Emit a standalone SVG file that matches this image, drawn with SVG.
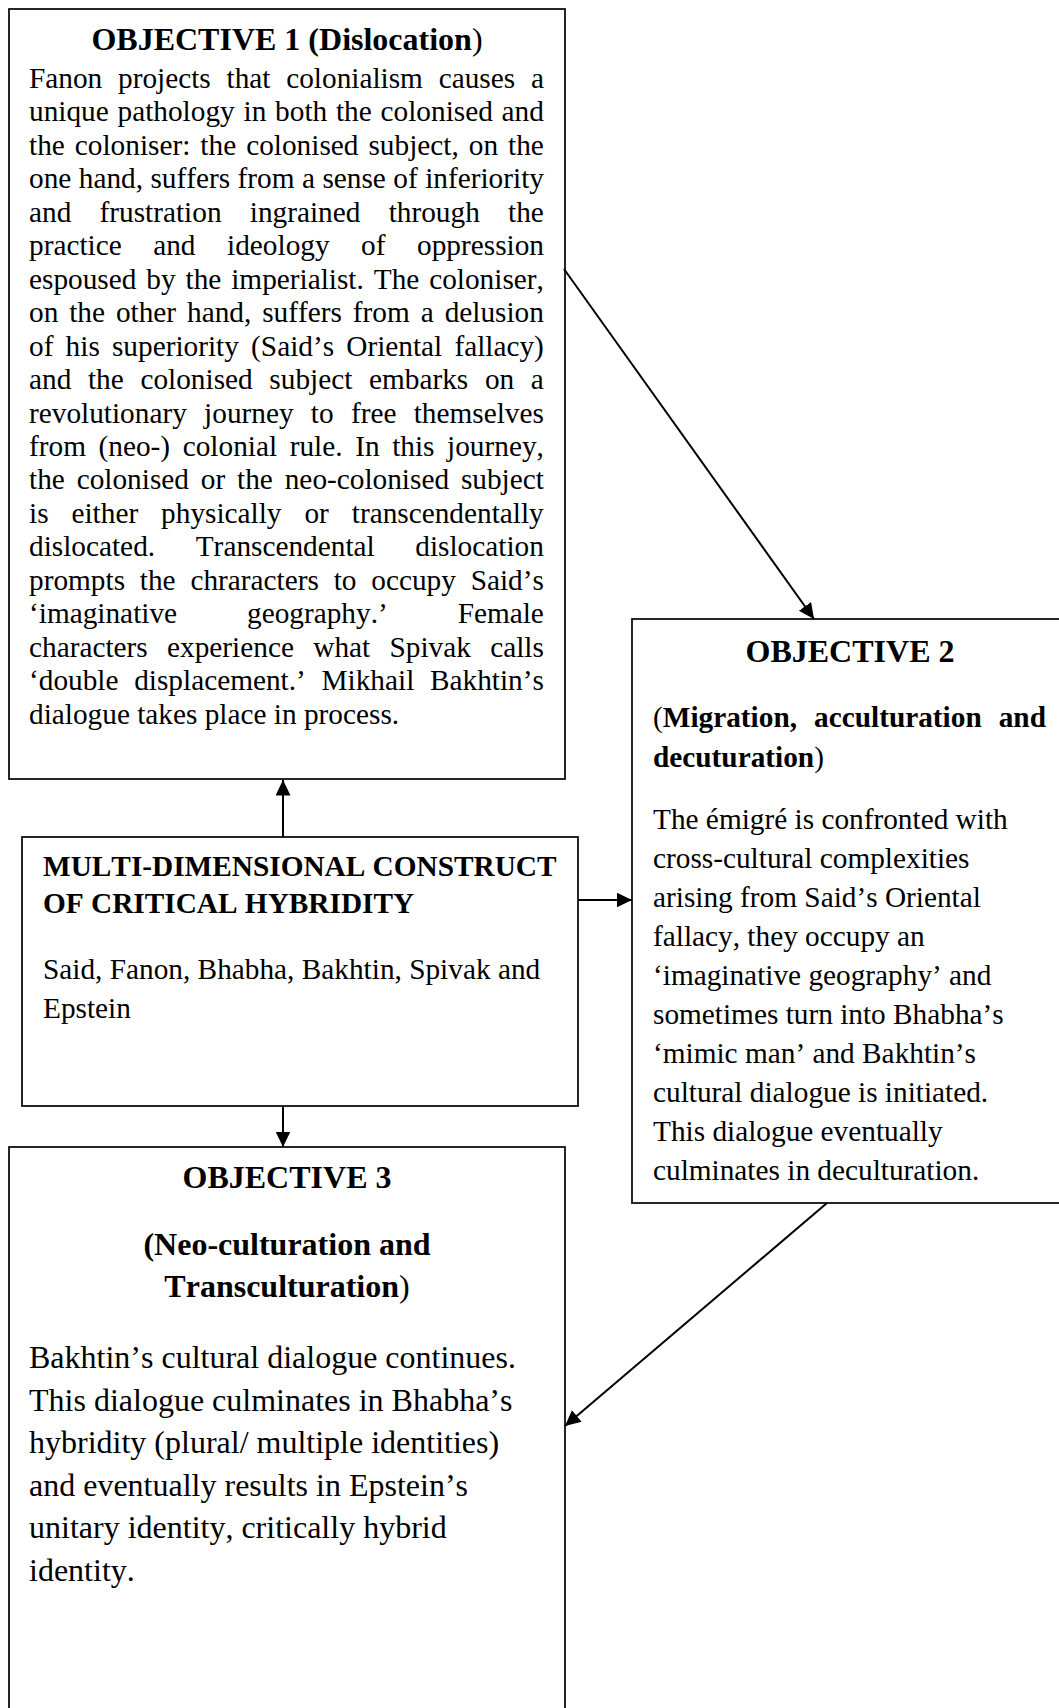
<svg xmlns="http://www.w3.org/2000/svg" width="1059" height="1708" viewBox="0 0 1059 1708">
<style>
text{font-family:"Liberation Serif","Times New Roman",serif;fill:#000;font-kerning:none}
.t{font-size:32px;font-weight:bold;text-anchor:middle}
.b{font-size:29.3px}
.bb{font-size:29.3px;font-weight:bold}
.b3{font-size:32px}
.n{font-weight:normal}
.box{fill:#fff;stroke:#000;stroke-width:1.7}
.c{stroke:#000;stroke-width:2;fill:none;marker-end:url(#ah)}
</style>
<defs>
<marker id="ah" markerUnits="userSpaceOnUse" markerWidth="17" markerHeight="17" refX="15.5" refY="7.5" orient="auto">
<path d="M0,0 L15.5,7.5 L0,15 z" fill="#000"/>
</marker>
</defs>
<rect width="1059" height="1708" fill="#fff"/>

<g id="objective1">
<rect class="box" x="9" y="9" width="556" height="770"/>
<text class="t" x="287" y="50">OBJECTIVE 1 (Dislocation<tspan class="n">)</tspan></text>
<g class="b">
<text x="29" y="88" word-spacing="8.44">Fanon projects that colonialism causes a</text>
<text x="29" y="121.45" word-spacing="1.47">unique pathology in both the colonised and</text>
<text x="29" y="154.9" word-spacing="2.69">the coloniser: the colonised subject, on the</text>
<text x="29" y="188.35" word-spacing="0.11">one hand, suffers from a sense of inferiority</text>
<text x="29" y="221.8" word-spacing="20.9">and frustration ingrained through the</text>
<text x="29" y="255.25" word-spacing="24.2">practice and ideology of oppression</text>
<text x="29" y="288.7" word-spacing="2.58">espoused by the imperialist. The coloniser,</text>
<text x="29" y="322.15" word-spacing="3.59">on the other hand, suffers from a delusion</text>
<text x="29" y="355.6" word-spacing="4.86">of his superiority (Said’s Oriental fallacy)</text>
<text x="29" y="389.05" word-spacing="9.33">and the colonised subject embarks on a</text>
<text x="29" y="422.5" word-spacing="9.95">revolutionary journey to free themselves</text>
<text x="29" y="455.95" word-spacing="5.27">from (neo-) colonial rule. In this journey,</text>
<text x="29" y="489.4" word-spacing="4.54">the colonised or the neo-colonised subject</text>
<text x="29" y="522.85" word-spacing="15.6">is either physically or transcendentally</text>
<text x="29" y="556.3" word-spacing="33.3">dislocated. Transcendental dislocation</text>
<text x="29" y="589.75" word-spacing="7.47">prompts the chraracters to occupy Said’s</text>
<text x="29" y="623.2" word-spacing="62.6">‘imaginative geography.’ Female</text>
<text x="29" y="656.65" word-spacing="12.0">characters experience what Spivak calls</text>
<text x="29" y="690.1" word-spacing="8.36">‘double displacement.’ Mikhail Bakhtin’s</text>
<text x="29" y="723.55">dialogue takes place in process.</text>
</g>
</g>

<g id="construct">
<rect class="box" x="22" y="837" width="556" height="269"/>
<text class="bb" x="43" y="876">MULTI-DIMENSIONAL CONSTRUCT</text>
<text class="bb" x="43" y="913">OF CRITICAL HYBRIDITY</text>
<text class="b" x="43" y="979">Said, Fanon, Bhabha, Bakhtin, Spivak and</text>
<text class="b" x="43" y="1018">Epstein</text>
</g>

<g id="objective2">
<rect class="box" x="632" y="619" width="436" height="584"/>
<text class="t" x="850" y="662">OBJECTIVE 2</text>
<text class="bb" x="653" y="727" word-spacing="9.7"><tspan class="n">(</tspan>Migration, acculturation and</text>
<text class="bb" x="653" y="767">decuturation<tspan class="n">)</tspan></text>
<g class="b">
<text x="653" y="829">The émigré is confronted with</text>
<text x="653" y="868">cross-cultural complexities</text>
<text x="653" y="907">arising from Said’s Oriental</text>
<text x="653" y="946">fallacy, they occupy an</text>
<text x="653" y="985">‘imaginative geography’ and</text>
<text x="653" y="1024">sometimes turn into Bhabha’s</text>
<text x="653" y="1063">‘mimic man’ and Bakhtin’s</text>
<text x="653" y="1102">cultural dialogue is initiated.</text>
<text x="653" y="1141">This dialogue eventually</text>
<text x="653" y="1180">culminates in deculturation.</text>
</g>
</g>

<g id="objective3">
<rect class="box" x="9" y="1147" width="556" height="600"/>
<text class="t" x="287" y="1188">OBJECTIVE 3</text>
<text class="t" x="287" y="1255">(Neo-culturation and</text>
<text class="t" x="287" y="1297">Transculturation<tspan class="n">)</tspan></text>
<g class="b3">
<text x="29" y="1368">Bakhtin’s cultural dialogue continues.</text>
<text x="29" y="1410.6">This dialogue culminates in Bhabha’s</text>
<text x="29" y="1453.2">hybridity (plural/ multiple identities)</text>
<text x="29" y="1495.8">and eventually results in Epstein’s</text>
<text x="29" y="1538.4">unitary identity, critically hybrid</text>
<text x="29" y="1581">identity.</text>
</g>
</g>

<g id="connectors">
<line class="c" x1="283" y1="837" x2="283" y2="780"/>
<line class="c" x1="283" y1="1106" x2="283" y2="1147"/>
<line class="c" x1="578" y1="900" x2="632" y2="900"/>
<line class="c" x1="564" y1="269" x2="814" y2="619"/>
<line class="c" x1="827" y1="1203" x2="565" y2="1426"/>
</g>
</svg>
